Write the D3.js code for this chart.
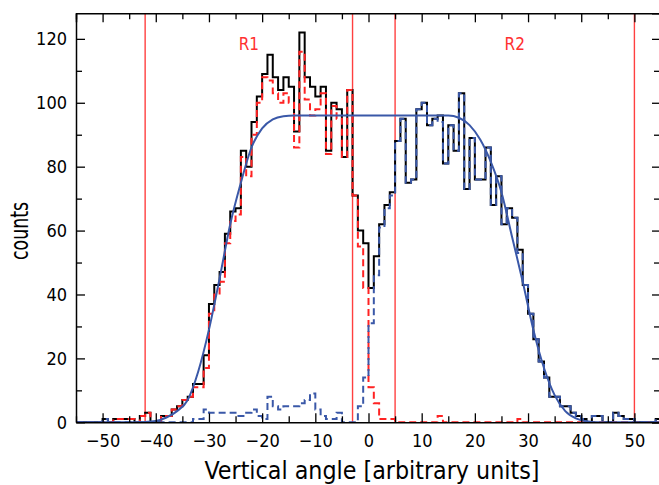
<!DOCTYPE html>
<html><head><meta charset="utf-8">
<script src="https://cdn.jsdelivr.net/npm/d3@7"></script>
<style>body{margin:0;background:#fff}</style>
</head><body><svg id="c" width="659" height="485"></svg>
<script>
// bins of width 1, first bin starts at binStart
const binStart = -53;
const totalCounts = [
 0,0,0,1,0,1,1,1,1,0,          // -53..-44
 2,3,0,0,2,2,4,5,7,8,          // -43..-34
 12,12,21,37,43,47,59,66,67,85,// -33..-24
 80,94,102,109,115,108,104,108,105,91, // -23..-14
 122,108,105,102,105,85,100,98,83,104, // -13..-4
 71,60,56,42,52,62,68,72,88,95,        // -3..6
 75,76,98,100,93,95,96,81,93,85,       // 7..16
 103,73,89,76,76,86,68,77,62,67,       // 17..26
 64,54,43,34,26,19,14,8,8,5,           // 27..36
 5,3,2,1,0,2,2,0,0,3,                  // 37..46
 2,1,1,0,0,0,0,1                       // 47..54
];
const r1Counts = [
 0,0,0,0,0,1,1,1,1,0,
 2,3,0,0,2,2,4,5,7,8,
 11,11,17,34,40,44,56,63,65,83,
 77,90,100,108,107,103,100,103,100,86,
 116,101,96,98,103,84,99,95,83,104,
 71,55,42,11,6,1,1,1,0,0,
 0,0,0,0,0,0,2,0,0,0,
 0,0,0,0,0,0,0,0,0,0,
 0,1,0,0,0,0,0,0,0,0,
 0,0,0,0,0,0,0,0,0,0,
 0,0,0,0,0,0,0,0
];
const r2Counts = [
 0,0,0,1,0,0,0,0,0,0,
 0,0,0,0,0,0,0,0,0,0,
 1,1,4,3,3,3,3,3,2,2,
 3,4,2,1,8,5,4,5,5,5,
 6,7,9,4,2,1,1,3,0,0,
 0,5,14,31,46,61,67,71,88,95,
 75,76,98,100,93,95,94,81,93,85,
 103,73,89,76,76,86,68,77,62,67,
 64,53,43,34,26,19,14,8,8,5,
 5,3,2,1,0,2,2,0,0,3,
 2,1,1,0,0,0,0,1
];
// fitted curve
const fitX = [-55,-45,-42,-40,-38,-36,-34,-32,-30,-28,-26,-24,-22,-20,-18,-16,-14,0,15,17,19,21,23,25,27,29,31,33,35,37,39,41,43,55];
const fitY = [0,0,0.1,0.4,1.5,3.5,7,16,29,45,62,75,86,92,94.8,95.8,96,96,96,95.3,93,88.5,81.5,72,58,44,29,17,8.5,3.5,1.2,0.3,0,0];

const regionLines = [-42, -3, 5, 50];
const regionNames = ["R1", "R2"];
const regionCenters = [-22.5, 27.5];
const xTicks = [-50,-40,-30,-20,-10,0,10,20,30,40,50];
const xMinor = [-55,-45,-35,-25,-15,-5,5,15,25,35,45,55];
const yTicks = [0,20,40,60,80,100,120];
const yMinor = [10,30,50,70,90,110];

const L = 76, R = 661, T = 13.3, B = 422.3;
const x = d3.scaleLinear().domain([-55,55]).range([L,R]);
const y = d3.scaleLinear().domain([0,128]).range([B,T]);
const FONT = "'Liberation Sans Narrow','DejaVu Sans Condensed','Arial Narrow','DejaVu Sans',sans-serif";
const BLUE = "#3a58a8", RED = "#ff2222";

const svg = d3.select("#c");
svg.append("defs").append("clipPath").attr("id","pc")
  .append("rect").attr("x",L).attr("y",T).attr("width",R-L).attr("height",B-T);

function stepData(arr){
  const pts = [[-55,0]];
  arr.forEach((v,i)=>pts.push([binStart+i, v]));
  pts.push([binStart+arr.length, arr[arr.length-1]]);
  pts.push([55,0]);
  return pts;
}
const stepLine = d3.line().x(d=>x(d[0])).y(d=>y(d[1])).curve(d3.curveStepAfter);
const plot = svg.append("g").attr("clip-path","url(#pc)");

plot.selectAll("line.reg").data(regionLines).enter().append("line")
  .attr("x1",d=>x(d)).attr("x2",d=>x(d)).attr("y1",T).attr("y2",B)
  .attr("stroke","#ff4040").attr("stroke-width",1.4);

plot.append("path").attr("d",stepLine(stepData(totalCounts)))
  .attr("fill","none").attr("stroke","#000").attr("stroke-width",2);
plot.append("path").attr("d",stepLine(stepData(r1Counts)))
  .attr("fill","none").attr("stroke",RED).attr("stroke-width",2).attr("stroke-dasharray","7,4");
plot.append("path").attr("d",stepLine(stepData(r2Counts)))
  .attr("fill","none").attr("stroke",BLUE).attr("stroke-width",2).attr("stroke-dasharray","7,4");

const fitLine = d3.line().x((d,i)=>x(fitX[i])).y(d=>y(d)).curve(d3.curveMonotoneX);
plot.append("path").attr("d",fitLine(fitY))
  .attr("fill","none").attr("stroke",BLUE).attr("stroke-width",2);

svg.selectAll("text.rl").data(regionNames).enter().append("text")
  .attr("x",(d,i)=>x(regionCenters[i])).attr("y",50)
  .attr("text-anchor","middle").attr("fill","#ff3030")
  .style("font-family",FONT).style("font-size","17px").text(d=>d);

function styleAxis(g){
  g.select(".domain").attr("stroke","#000").attr("stroke-width",1.5);
  g.selectAll(".tick line").attr("stroke","#000").attr("stroke-width",1.3);
  g.selectAll("text").style("font-family",FONT).style("font-size","18px").attr("fill","#000");
}
function minor(g){g.select(".domain").remove();g.selectAll("line").attr("stroke","#000").attr("stroke-width",1.3);}
const gb = svg.append("g").attr("transform",`translate(0,${B})`)
  .call(d3.axisBottom(x).tickValues(xTicks).tickSizeInner(-9).tickSizeOuter(0).tickPadding(12).tickFormat(d=>d<0?"\u2212"+(-d):d));
styleAxis(gb);
svg.append("g").attr("transform",`translate(0,${B})`)
  .call(d3.axisBottom(x).tickValues(xMinor).tickSize(-6).tickFormat("")).call(minor);
const gt = svg.append("g").attr("transform",`translate(0,${T})`)
  .call(d3.axisTop(x).tickValues(xTicks).tickSize(-9).tickFormat(""));
styleAxis(gt);
svg.append("g").attr("transform",`translate(0,${T})`)
  .call(d3.axisTop(x).tickValues(xMinor).tickSize(-6).tickFormat("")).call(minor);
const gl = svg.append("g").attr("transform",`translate(${L},0)`)
  .call(d3.axisLeft(y).tickValues(yTicks).tickSizeInner(-9).tickSizeOuter(0).tickPadding(9));
styleAxis(gl);
svg.append("g").attr("transform",`translate(${L},0)`)
  .call(d3.axisLeft(y).tickValues(yMinor).tickSize(-6).tickFormat("")).call(minor);
const gr = svg.append("g").attr("transform",`translate(${R},0)`)
  .call(d3.axisRight(y).tickValues(yTicks).tickSize(-9).tickFormat(""));
styleAxis(gr);
svg.append("g").attr("transform",`translate(${R},0)`)
  .call(d3.axisRight(y).tickValues(yMinor).tickSize(-7).tickFormat("")).call(minor);

svg.append("text").attr("x",372).attr("y",479).attr("text-anchor","middle")
  .attr("textLength",335).attr("lengthAdjust","spacingAndGlyphs")
  .style("font-family",FONT).style("font-size","25px").text("Vertical angle [arbitrary units]");
svg.append("text").attr("transform","translate(28,231) rotate(-90)").attr("text-anchor","middle")
  .attr("textLength",58).attr("lengthAdjust","spacingAndGlyphs")
  .style("font-family",FONT).style("font-size","24px").text("counts");
</script></body></html>
